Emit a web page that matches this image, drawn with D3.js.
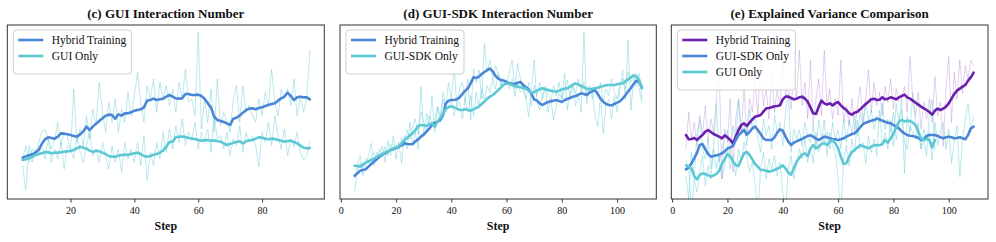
<!DOCTYPE html>
<html>
<head>
<meta charset="utf-8">
<script src="https://cdn.jsdelivr.net/npm/d3@7"></script>
<style>
  body { margin: 0; background: #fff; }
  svg text { font-family: "Liberation Serif", "Times New Roman", serif; fill: #111; }
</style>
</head>
<body>
<svg width="996" height="242"></svg>
<script>
// steps (x axis)
let stepsShort = d3.range(5, 96);   // 5..95
let stepsLong = d3.range(5, 110);   // 5..109

// (c) GUI Interaction Number
let cHybridSmooth = [124,128,131,134,139,147,165,179,185,183,
  181,187,197,196,194,192,189,187,194,203,
  217,207,217,226,234,242,250,253,252,241,
  254,250,257,257,260,265,267,269,275,295,
  297,301,297,299,301,307,312,307,302,301,
  302,315,315,312,312,313,309,301,287,275,
  247,237,234,231,227,222,241,244,250,259,
  267,271,272,269,273,275,279,282,285,287,
  295,302,307,319,309,297,305,307,305,305,
  299];
let cGuiSmooth = [117,119,122,126,132,135,137,141,140,137,
  139,139,140,142,143,144,147,152,157,154,
  151,145,141,145,143,139,135,129,127,127,
  130,132,133,132,135,137,139,135,129,127,
  129,133,135,139,145,157,171,172,185,187,
  187,186,183,181,180,177,175,176,177,175,
  175,174,172,167,162,165,169,171,173,167,
  173,176,177,181,185,184,181,179,181,180,
  177,175,172,174,175,171,167,160,154,152,
  153];
let cHybridRaw = [120,160,110,150,130,170,200,210,180,150,
  175,230,160,200,190,140,330,170,210,160,
  250,180,270,220,350,260,200,290,230,300,
  200,270,230,320,250,310,380,290,230,340,
  300,360,260,350,300,340,280,330,260,350,
  300,390,290,300,250,500,210,300,230,330,
  200,360,220,260,230,200,300,340,230,340,
  260,280,250,230,300,250,320,280,390,290,
  250,330,300,330,280,360,250,310,260,300,
  447];
let cGuiRaw = [100,27,160,110,150,130,160,120,180,110,
  150,120,170,90,160,150,120,190,140,110,
  160,200,130,150,110,170,130,90,160,110,
  150,80,170,120,150,110,170,100,190,57,
  140,100,170,120,200,140,210,150,220,170,
  240,160,200,180,230,150,200,170,210,140,
  250,180,190,150,200,130,180,160,220,140,
  200,170,190,160,97,200,170,230,160,250,
  190,150,210,130,180,157,200,140,117,130,
  172];

// (d) GUI-SDK Interaction Number
let dHybridSmooth = [70,77,85,87,89,97,105,112,119,127,
  133,137,142,147,150,153,157,161,167,165,
  164,165,173,179,187,193,202,211,222,229,
  232,237,252,287,295,297,297,299,305,315,
  325,332,347,365,363,367,375,381,387,391,
  383,369,361,357,355,351,347,346,345,349,
  351,342,335,329,315,299,295,287,282,287,
  291,293,295,297,294,291,297,300,303,307,
  309,313,317,315,312,319,323,327,315,301,
  292,285,282,281,285,289,293,301,311,323,
  333,345,355,352,335];
let dSdkSmooth = [100,99,97,103,109,113,117,121,126,131,
  135,139,143,147,151,155,159,167,177,183,
  191,197,207,219,222,221,219,223,227,217,
  232,243,257,271,275,278,275,271,267,267,
  269,267,265,269,273,277,285,293,301,307,
  312,319,327,335,343,347,345,342,339,337,
  335,333,331,325,317,321,325,329,332,329,
  327,325,323,322,325,329,331,332,337,343,
  347,343,339,335,331,329,331,332,334,337,
  339,341,342,342,342,344,346,347,353,359,
  365,371,367,357,332];
let dHybridRaw = [22,85,110,70,100,130,167,100,140,120,
  160,110,175,130,190,120,170,107,190,150,
  230,160,200,150,337,190,257,220,307,200,
  277,250,320,280,350,300,397,277,330,352,
  290,360,237,390,350,387,300,467,380,417,
  360,400,377,340,360,347,380,417,330,407,
  360,340,300,247,330,417,290,267,310,337,
  260,300,237,280,317,300,377,267,320,347,
  280,310,260,502,287,330,327,250,217,307,
  197,280,300,240,307,260,330,387,300,477,
  267,357,377,330,287];
let dSdkRaw = [60,105,130,92,120,108,130,140,115,150,
  125,157,130,165,145,160,150,185,160,207,
  180,215,240,195,260,230,210,250,230,240,
  277,230,300,260,280,300,250,277,290,240,
  300,260,310,250,320,277,330,300,340,320,
  360,330,377,340,360,350,330,360,307,350,
  320,330,300,350,280,340,310,350,300,337,
  317,290,340,310,350,300,330,357,300,340,
  317,360,320,350,307,340,300,330,310,350,
  290,330,310,360,320,300,340,360,330,380,
  350,370,337,377,300];

// (e) Explained Variance Comparison
let eHybridSmooth = [192,179,180,183,177,185,192,202,207,201,
  195,191,187,182,191,185,177,167,187,207,
  222,227,219,229,239,247,249,252,262,272,
  273,275,278,279,281,299,307,307,303,299,
  301,305,307,301,292,275,257,255,277,295,
  287,283,287,281,287,291,281,273,267,257,
  253,259,262,269,277,285,292,299,301,297,
  298,305,299,301,305,302,299,305,309,313,
  305,301,295,289,283,277,272,267,261,253,
  265,271,267,271,277,287,301,315,325,331,
  337,342,355,365,379];
let eSdkSmooth = [89,95,107,122,139,162,165,149,135,127,
  129,131,133,137,143,151,155,159,177,192,
  199,207,193,201,212,217,207,195,182,177,
  177,177,185,199,209,205,187,172,162,169,
  173,177,180,185,189,191,187,181,177,182,
  187,185,182,180,179,177,179,182,187,191,
  195,197,205,215,225,229,232,235,237,241,
  239,235,232,229,227,222,217,212,203,197,
  192,190,189,187,183,177,180,189,192,192,
  192,189,185,182,185,187,185,182,183,185,
  182,179,192,212,217];
let eGuiSmooth = [101,97,91,69,59,72,77,75,71,67,
  71,75,85,105,119,135,127,113,101,99,
  119,137,141,132,119,105,97,87,87,85,
  82,84,87,91,95,101,92,79,73,92,
  112,124,133,137,129,151,162,152,157,165,
  167,162,172,177,167,152,127,105,107,127,
  141,147,155,161,159,155,152,157,161,162,
  161,165,177,169,182,197,215,232,237,233,
  235,234,229,221,202,181,177,181,177,155,
  177];
let eHybridRaw = [150,260,180,230,160,250,190,280,170,240,
  200,300,397,60,210,170,300,80,240,300,
  200,330,190,300,260,360,250,417,280,330,
  240,380,260,330,280,400,310,340,270,380,
  300,447,280,350,240,417,220,300,360,250,
  447,280,330,240,300,250,417,230,280,220,
  300,200,280,337,230,300,387,260,350,280,
  320,250,337,290,360,270,330,290,300,337,
  260,427,300,250,320,210,290,240,300,230,
  367,250,290,157,330,427,230,380,300,417,
  317,400,360,417,400];
let eSdkRaw = [70,0,140,60,200,237,150,120,180,90,
  160,287,110,150,180,207,130,220,170,297,
  200,230,160,270,210,250,180,140,240,190,
  220,150,250,200,230,160,260,317,140,210,
  180,207,160,230,190,170,220,150,237,190,
  170,200,150,230,180,207,150,240,170,237,
  200,250,190,260,220,290,230,267,210,250,
  230,287,210,240,200,260,177,230,267,170,
  150,217,200,177,230,150,210,177,200,117,
  230,160,200,230,150,210,107,170,220,67,
  177,240,287,200,250];
let eGuiRaw = [120,90,-40,60,20,80,130,40,100,60,
  150,90,130,60,100,160,90,130,70,150,
  110,170,130,80,110,40,-40,90,140,60,
  120,90,130,70,110,20,-40,90,130,60,
  107,150,120,180,110,150,107,200,140,170,
  237,130,200,160,140,60,-40,120,160,100,
  180,140,237,150,170,107,190,140,180,130,
  267,160,200,150,237,160,287,230,300,77,
  250,200,317,230,207,150,180,130,260,297,
  147];

let blue = "#4a86d8";
let cyan = "#5cc8d4";
let purple = "#6a1fae";

let top_ = 25, bottom_ = 199;

var svg = d3.select("svg");

function drawPanel(p) {
  let x = d3.scaleLinear().domain(p.xDomain).range([p.left, p.right]);
  let y = d3.scaleLinear().domain([0, 522]).range([bottom_, top_]);

  let g = svg.append("g");
  let clipId = "clip-" + p.id;
  svg.append("clipPath").attr("id", clipId)
    .append("rect")
    .attr("x", p.left).attr("y", top_)
    .attr("width", p.right - p.left).attr("height", bottom_ - top_);

  let line = d3.line()
    .x(function(d) { return x(d[0]); })
    .y(function(d) { return y(d[1]); });

  let plot = g.append("g").attr("clip-path", "url(#" + clipId + ")");

  // raw (noisy) lines underneath
  p.series.forEach(function(s) {
    plot.append("path")
      .datum(d3.zip(s.steps, s.raw))
      .attr("fill", "none")
      .attr("stroke", s.rawColor)
      .attr("stroke-opacity", s.rawOpacity)
      .attr("stroke-width", 1)
      .attr("stroke-linejoin", "round")
      .attr("d", line);
  });
  // smoothed lines
  p.series.forEach(function(s) {
    plot.append("path")
      .datum(d3.zip(s.steps, s.smooth))
      .attr("fill", "none")
      .attr("stroke", s.color)
      .attr("stroke-width", 2.6)
      .attr("stroke-linejoin", "round")
      .attr("stroke-linecap", "round")
      .attr("d", line);
  });

  // x axis
  let ax = g.append("g")
    .attr("transform", "translate(0," + bottom_ + ")")
    .call(d3.axisBottom(x).tickValues(p.ticks).tickSize(3.5).tickPadding(4.5));
  ax.select(".domain").remove();
  ax.selectAll("line").attr("stroke", "#222").attr("stroke-width", 0.9);
  ax.selectAll("text")
    .attr("font-family", "Liberation Serif, Times New Roman, serif")
    .attr("font-size", 10).attr("fill", "#222");

  // frame
  g.append("rect")
    .attr("x", p.left).attr("y", top_)
    .attr("width", p.right - p.left).attr("height", bottom_ - top_)
    .attr("fill", "none").attr("stroke", "#333").attr("stroke-width", 1);

  let cx = (p.left + p.right) / 2;
  g.append("text")
    .attr("x", cx).attr("y", 18)
    .attr("text-anchor", "middle")
    .attr("font-size", 13).attr("font-weight", "bold")
    .text(p.title);
  g.append("text")
    .attr("x", cx).attr("y", 230)
    .attr("text-anchor", "middle")
    .attr("font-size", 12).attr("font-weight", "bold")
    .text("Step");

  // legend
  let lx = p.left + 6, ly = 30;
  let lg = g.append("g");
  lg.append("rect")
    .attr("x", lx).attr("y", ly)
    .attr("width", p.legendW).attr("height", 8 + p.series.length * 16 + 4)
    .attr("rx", 3)
    .attr("fill", "#fff").attr("fill-opacity", 0.85)
    .attr("stroke", "#cfcfcf").attr("stroke-width", 1);
  p.series.forEach(function(s, i) {
    let yy = ly + 10 + i * 16;
    lg.append("line")
      .attr("x1", lx + 5).attr("x2", lx + 30)
      .attr("y1", yy).attr("y2", yy)
      .attr("stroke", s.color).attr("stroke-width", 2.6);
    lg.append("text")
      .attr("x", lx + 38.5).attr("y", yy + 4)
      .attr("font-size", 11.5)
      .text(s.label);
  });
}

drawPanel({
  id: "c", title: "(c) GUI Interaction Number",
  left: 7.3, right: 324.3, xDomain: [0.2, 99.5], ticks: [20, 40, 60, 80],
  legendW: 118,
  series: [
    {label: "Hybrid Training", steps: stepsShort, smooth: cHybridSmooth, raw: cHybridRaw,
     color: blue, rawColor: cyan, rawOpacity: 0.42},
    {label: "GUI Only", steps: stepsShort, smooth: cGuiSmooth, raw: cGuiRaw,
     color: cyan, rawColor: cyan, rawOpacity: 0.42}
  ]
});

drawPanel({
  id: "d", title: "(d) GUI-SDK Interaction Number",
  left: 340, right: 656.3, xDomain: [-0.3, 114.2], ticks: [0, 20, 40, 60, 80, 100],
  legendW: 118,
  series: [
    {label: "Hybrid Training", steps: stepsLong, smooth: dHybridSmooth, raw: dHybridRaw,
     color: blue, rawColor: cyan, rawOpacity: 0.42},
    {label: "GUI-SDK Only", steps: stepsLong, smooth: dSdkSmooth, raw: dSdkRaw,
     color: cyan, rawColor: cyan, rawOpacity: 0.42}
  ]
});

drawPanel({
  id: "e", title: "(e) Explained Variance Comparison",
  left: 671.3, right: 988, xDomain: [-0.3, 114.2], ticks: [0, 20, 40, 60, 80, 100],
  legendW: 118,
  series: [
    {label: "Hybrid Training", steps: stepsLong, smooth: eHybridSmooth, raw: eHybridRaw,
     color: purple, rawColor: purple, rawOpacity: 0.2},
    {label: "GUI-SDK Only", steps: stepsLong, smooth: eSdkSmooth, raw: eSdkRaw,
     color: blue, rawColor: cyan, rawOpacity: 0.42},
    {label: "GUI Only", steps: stepsShort, smooth: eGuiSmooth, raw: eGuiRaw,
     color: cyan, rawColor: cyan, rawOpacity: 0.42}
  ]
});
</script>
</body>
</html>
